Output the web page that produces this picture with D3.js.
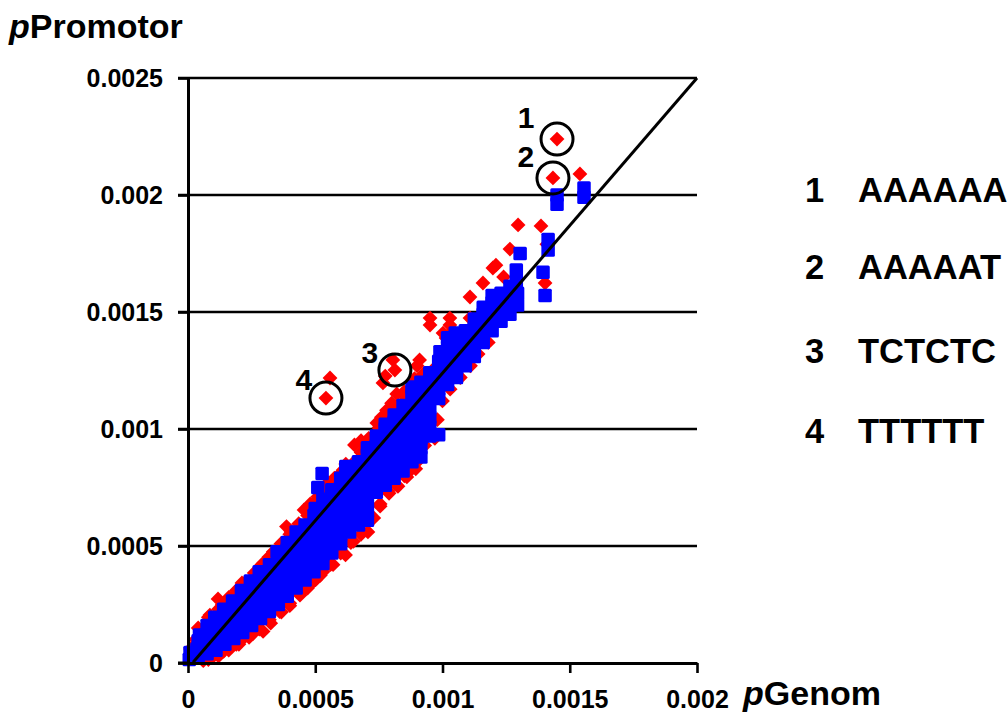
<!DOCTYPE html>
<html><head><meta charset="utf-8">
<script src="https://cdn.jsdelivr.net/npm/d3@7"></script>
<style>
html,body{margin:0;padding:0;background:#fff;}
svg{display:block;}
text{font-family:"Liberation Sans",Arial,Helvetica,sans-serif;font-weight:bold;fill:#000;}
</style></head><body>
<svg id="chart" width="1007" height="714"></svg>
<script>
// ---- axis ticks ----
const xTicks = [0, 0.0005, 0.001, 0.0015, 0.002];
const xTickLabels = ["0", "0.0005", "0.001", "0.0015", "0.002"];
const yTicks = [0, 0.0005, 0.001, 0.0015, 0.002, 0.0025];
const yTickLabels = ["0", "0.0005", "0.001", "0.0015", "0.002", "0.0025"];
const xTitle = ["p", "Genom"];
const yTitle = ["p", "Promotor"];

// ---- red series (diamonds): [pGenom, pPromotor] ----
const redSeries = [
 // upper edge of the cloud
 [1e-5,6e-5],[3e-5,10e-5],[4e-5,15e-5],[6e-5,14e-5],[8e-5,19.5e-5],[8.6e-5,20.5e-5],[12e-5,23e-5],[11.8e-5,27.4e-5],
 [13.5e-5,25e-5],[15.5e-5,26.5e-5],[16e-5,28e-5],[19e-5,30e-5],[19e-5,31e-5],[21.2e-5,34.2e-5],[22.5e-5,34.5e-5],
 [23.5e-5,33e-5],[26e-5,38.5e-5],[29.5e-5,42.5e-5],[29e-5,42e-5],[31.8e-5,45.3e-5],[33e-5,46e-5],[33.5e-5,47.5e-5],
 [36.5e-5,51e-5],[38.7e-5,58.3e-5],[40e-5,55e-5],[40.5e-5,56e-5],[43.5e-5,59.5e-5],[45.6e-5,65.4e-5],[47e-5,63e-5],
 [48e-5,68e-5],[50.5e-5,69.5e-5],[51e-5,71e-5],[54e-5,73.5e-5],[55e-5,77e-5],[57.5e-5,77.5e-5],[57.5e-5,79e-5],
 [59.7e-5,80.8e-5],[61e-5,82.5e-5],[62e-5,85e-5],[64.5e-5,85e-5],[65.4e-5,93.2e-5],[68e-5,90e-5],[68e-5,95e-5],
 [71e-5,96e-5],[71.5e-5,95.5e-5],[74.2e-5,102.6e-5],[75e-5,100.5e-5],[76e-5,105e-5],[78.5e-5,105.5e-5],[78e-5,108e-5],
 [80e-5,111e-5],[82e-5,109.5e-5],[82e-5,115e-5],[85.5e-5,113.5e-5],[85e-5,116e-5],[88e-5,120e-5],[89e-5,121.5e-5],
 [92.5e-5,123.5e-5],[93e-5,122e-5],[96e-5,125e-5],[98.2e-5,118.4e-5],
 // outliers above the cloud
 [76.6e-5,119.7e-5],[77.5e-5,122.6e-5],[90e-5,127e-5],[91e-5,129.5e-5],
 [80.5e-5,129.5e-5],[81.3e-5,125.2e-5],[54.2e-5,113.2e-5],[55.8e-5,121.8e-5],
 [95.1e-5,147.4e-5],[95.1e-5,144.4e-5],[100.2e-5,141e-5],[101.4e-5,138.9e-5],[102.9e-5,147.4e-5],[102.9e-5,144.4e-5],
 [104e-5,142e-5],[110.8e-5,147.4e-5],[110.8e-5,156.4e-5],[115.9e-5,162.4e-5],[119.8e-5,168.8e-5],[121e-5,170e-5],
 [124e-5,165e-5],[126.5e-5,176.9e-5],[129.7e-5,187.2e-5],[138.7e-5,186.8e-5],[140.3e-5,162.4e-5],[141e-5,179e-5],
 [154e-5,209e-5],[145.0e-5,223.9e-5],[143.4e-5,207.3e-5],
 // lower edge of the cloud
 [6e-5,1e-5],[8e-5,1.5e-5],[10e-5,3e-5],[12e-5,3e-5],[14e-5,5e-5],[16e-5,5.5e-5],[19e-5,8e-5],[20e-5,8e-5],
 [22.4e-5,11.3e-5],[24e-5,11e-5],[25.5e-5,12.5e-5],[28e-5,14.5e-5],[29.5e-5,13.5e-5],[32e-5,18.5e-5],[32.5e-5,17e-5],
 [36e-5,22e-5],[36.7e-5,21.8e-5],[40e-5,24.5e-5],[40e-5,25.5e-5],[44e-5,29e-5],[44e-5,29.5e-5],[47e-5,32e-5],
 [48e-5,33.5e-5],[50.1e-5,35.5e-5],[52e-5,37.5e-5],[53e-5,39e-5],[56e-5,42e-5],[57e-5,42e-5],[60e-5,47e-5],
 [61.9e-5,46.2e-5],[64e-5,51.5e-5],[65e-5,52e-5],[68e-5,55e-5],[70.7e-5,56e-5],[72e-5,62e-5],[73e-5,62e-5],
 [75.5e-5,67e-5],[75.5e-5,68e-5],[78.6e-5,73.5e-5],[79e-5,72.5e-5],[82e-5,76e-5],[82.5e-5,75.5e-5],[85e-5,80e-5],
 [86e-5,79.5e-5],[88e-5,83e-5],[89.5e-5,83e-5],[91e-5,87e-5],[88.4e-5,95.3e-5],[93e-5,93e-5],
 [97e-5,96e-5],[98e-5,104e-5],[100e-5,112e-5],[103e-5,117e-5],[107e-5,122e-5],[111e-5,127e-5],[114e-5,132e-5],[118e-5,137e-5]
];

// ---- blue series (squares): [pGenom, pPromotor] ----
const blueSeries = [
 [0.5e-5,1.5e-5],[0.8e-5,4.5e-5],
 [4e-5,2.5e-5],[3.5e-5,6e-5],[4e-5,9.5e-5],[4.5e-5,12e-5],
 [7.5e-5,4e-5],[7.5e-5,8e-5],[7e-5,12e-5],[7.5e-5,16e-5],
 [11e-5,5.5e-5],[11e-5,9.5e-5],[11e-5,13.5e-5],[11e-5,17.5e-5],[10.5e-5,19.5e-5],
 [14.5e-5,8e-5],[14.5e-5,12e-5],[14.5e-5,16e-5],[14.5e-5,20e-5],[14e-5,23e-5],
 [18e-5,10.5e-5],[18e-5,14.5e-5],[18e-5,18.5e-5],[18e-5,22.5e-5],[17.5e-5,26.5e-5],
 [21.5e-5,13e-5],[21.5e-5,17e-5],[21.5e-5,21e-5],[21.5e-5,25e-5],[21.5e-5,29e-5],[21e-5,31e-5],
 [25e-5,16e-5],[25e-5,20e-5],[25e-5,24e-5],[25e-5,28e-5],[25e-5,32e-5],[24.5e-5,35e-5],
 [28.5e-5,19e-5],[28.5e-5,23e-5],[28.5e-5,27e-5],[28.5e-5,31e-5],[28.5e-5,35e-5],[28e-5,39e-5],
 [32e-5,22e-5],[32e-5,26e-5],[32e-5,30e-5],[32e-5,34e-5],[32e-5,38e-5],[32e-5,42e-5],
 [35.5e-5,25e-5],[35.5e-5,29e-5],[35.5e-5,33e-5],[35.5e-5,37e-5],[35.5e-5,41e-5],[35.5e-5,45e-5],[35e-5,47.5e-5],
 [39e-5,28.5e-5],[39e-5,32.5e-5],[39e-5,36.5e-5],[39e-5,40.5e-5],[39e-5,44.5e-5],[39e-5,48.5e-5],[39e-5,51.5e-5],
 [42.5e-5,32e-5],[42.5e-5,36e-5],[42.5e-5,40e-5],[42.5e-5,44e-5],[42.5e-5,48e-5],[42.5e-5,52e-5],[42.5e-5,56e-5],
 [46e-5,35.5e-5],[46e-5,39.5e-5],[46e-5,43.5e-5],[46e-5,47.5e-5],[46e-5,51.5e-5],[46e-5,55.5e-5],[46e-5,59e-5],
 [49.5e-5,39e-5],[49.5e-5,43e-5],[49.5e-5,47e-5],[49.5e-5,51e-5],[49.5e-5,55e-5],[49.5e-5,59e-5],[49.5e-5,63e-5],[50e-5,66e-5],[51e-5,75e-5],
 [53e-5,42.5e-5],[53e-5,46.5e-5],[53e-5,50.5e-5],[53e-5,54.5e-5],[53e-5,58.5e-5],[53e-5,62.5e-5],[53e-5,66.5e-5],[53e-5,70e-5],[52.7e-5,81e-5],
 [56.5e-5,47e-5],[56.5e-5,51e-5],[56.5e-5,55e-5],[56.5e-5,59e-5],[56.5e-5,63e-5],[56.5e-5,67e-5],[56.5e-5,71e-5],[56.5e-5,74e-5],
 [60e-5,51e-5],[60e-5,55e-5],[60e-5,59e-5],[60e-5,63e-5],[60e-5,67e-5],[60e-5,71e-5],[60e-5,75e-5],[60e-5,79e-5],
 [63.5e-5,56e-5],[63.5e-5,60e-5],[63.5e-5,64e-5],[63.5e-5,68e-5],[63.5e-5,72e-5],[63.5e-5,76e-5],[63.5e-5,80e-5],[62e-5,84e-5],
 [67e-5,59e-5],[67e-5,63e-5],[67e-5,67e-5],[67e-5,71e-5],[67e-5,75e-5],[67e-5,79e-5],[67e-5,83e-5],[67e-5,86e-5],
 [70.5e-5,61e-5],[70.5e-5,65e-5],[70.5e-5,69e-5],[70.5e-5,73e-5],[70.5e-5,77e-5],[70.5e-5,81e-5],[70.5e-5,85e-5],[70.5e-5,89e-5],[70.5e-5,92e-5],
 [74e-5,73e-5],[74e-5,77e-5],[74e-5,81e-5],[74e-5,85e-5],[74e-5,89e-5],[74e-5,93e-5],[74e-5,97e-5],
 [77.5e-5,76e-5],[77.5e-5,80e-5],[77.5e-5,84e-5],[77.5e-5,88e-5],[77.5e-5,92e-5],[77.5e-5,96e-5],[77.5e-5,100e-5],[77.5e-5,102e-5],
 [81e-5,79e-5],[81e-5,83e-5],[81e-5,87e-5],[81e-5,91e-5],[81e-5,95e-5],[81e-5,99e-5],[81e-5,103e-5],[81e-5,106e-5],
 [84.5e-5,82e-5],[84.5e-5,86e-5],[84.5e-5,90e-5],[84.5e-5,94e-5],[84.5e-5,98e-5],[84.5e-5,102e-5],[84.5e-5,106e-5],[84.5e-5,110e-5],
 [88e-5,86e-5],[88e-5,90e-5],[88e-5,94e-5],[88e-5,98e-5],[88e-5,102e-5],[88e-5,106e-5],[88e-5,110e-5],[88e-5,114e-5],[88e-5,118e-5],
 [91.5e-5,88e-5],[91.5e-5,92e-5],[91.5e-5,96e-5],[91.5e-5,100e-5],[91.5e-5,104e-5],[91.5e-5,108e-5],[91.5e-5,112e-5],[91.5e-5,116e-5],[91.5e-5,120e-5],
 [95e-5,97e-5],[95e-5,101e-5],[95e-5,105e-5],[95e-5,109e-5],[95e-5,113e-5],[95e-5,117e-5],[95e-5,121e-5],[95e-5,124e-5],
 [98.5e-5,97.5e-5],[98.5e-5,113e-5],[98.5e-5,117e-5],[98.5e-5,121e-5],[98.5e-5,125e-5],[98.5e-5,129e-5],[99e-5,133e-5],
 [102e-5,119e-5],[102e-5,123e-5],[102e-5,127e-5],[102e-5,131e-5],[102e-5,135e-5],[102e-5,139e-5],
 [105.5e-5,122e-5],[105.5e-5,126e-5],[105.5e-5,130e-5],[105.5e-5,134e-5],[105.5e-5,138e-5],[105e-5,141e-5],
 [109e-5,127e-5],[109e-5,131e-5],[109e-5,135e-5],[109e-5,139e-5],[109e-5,142e-5],
 [112.5e-5,131e-5],[112.5e-5,135e-5],[112.5e-5,139e-5],[112.5e-5,143e-5],[112.5e-5,147e-5],
 [116e-5,137e-5],[116e-5,141e-5],[116e-5,145e-5],[116e-5,149e-5],[116e-5,152e-5],
 [119.5e-5,142e-5],[119.5e-5,146e-5],[119.5e-5,150e-5],[119.5e-5,154e-5],[119.5e-5,157e-5],
 [123e-5,146e-5],[123e-5,150e-5],[123e-5,154e-5],[123e-5,158e-5],
 [126.5e-5,149e-5],[126.5e-5,153e-5],[126.5e-5,157e-5],[126.5e-5,161e-5],
 [129.5e-5,153e-5],[129.5e-5,158e-5],[129e-5,163e-5],[129e-5,168e-5],[130.5e-5,175e-5],
 [139.5e-5,167e-5],[140.3e-5,157e-5],[141.5e-5,176.5e-5],[141.5e-5,181e-5],
 [145e-5,196e-5],[145e-5,200e-5],[155.6e-5,199e-5],[155.6e-5,203e-5]
];

// ---- reference line (pPromotor = 1.25 * pGenom) ----
const diagonal = [[2e-5, 0.3e-5], [200e-5, 250e-5]];

// ---- highlighted hexamers ----
const highlightIds = ["1", "2", "3", "4"];
const highlightSeqs = ["AAAAAA", "AAAAAT", "TCTCTC", "TTTTTT"];
const highlightX = [145.0e-5, 143.4e-5, 81.3e-5, 54.2e-5];
const highlightY = [223.9e-5, 207.3e-5, 125.2e-5, 113.2e-5];

// ================= drawing =================
const svg = d3.select("#chart");
const x = d3.scaleLinear().domain([0, 0.002]).range([188, 697]);
const y = d3.scaleLinear().domain([0, 0.0025]).range([663, 78]);

// gridlines
svg.append("g").selectAll("line").data(yTicks.filter(d => d > 0)).join("line")
  .attr("x1", x(0) - 10).attr("x2", x(0.002))
  .attr("y1", d => y(d)).attr("y2", d => y(d))
  .attr("stroke", "#000").attr("stroke-width", 2.6);

// red diamonds
const dS = 7.4;
svg.append("g").selectAll("path").data(redSeries).join("path")
  .attr("transform", d => `translate(${x(d[0])},${y(d[1])})`)
  .attr("d", `M0,${-dS}L${dS},0L0,${dS}L${-dS},0Z`)
  .attr("fill", "#ff0000");

// blue squares
const sq = 13.5;
svg.append("g").selectAll("rect").data(blueSeries).join("rect")
  .attr("x", d => x(d[0]) - sq / 2).attr("y", d => y(d[1]) - sq / 2)
  .attr("width", sq).attr("height", sq).attr("rx", 1.5)
  .attr("fill", "#0000ff");

// diagonal line
svg.append("path").datum(diagonal)
  .attr("d", d3.line().x(d => x(d[0])).y(d => y(d[1])))
  .attr("stroke", "#000").attr("stroke-width", 3).attr("fill", "none");

// axes
const fontTick = 25;
const yAxis = d3.axisLeft(y).tickValues(yTicks).tickFormat((d, i) => yTickLabels[i])
  .tickSize(10).tickSizeOuter(0).tickPadding(15);
const gy = svg.append("g").attr("transform", `translate(${x(0)},0)`).call(yAxis);
gy.select(".domain").attr("stroke-width", 3);
gy.selectAll(".tick line").attr("stroke-width", 2.6);
gy.selectAll("text").attr("font-size", fontTick).attr("dy", "0.34em");

const xAxis = d3.axisBottom(x).tickValues(xTicks).tickFormat((d, i) => xTickLabels[i])
  .tickSize(10).tickSizeOuter(0).tickPadding(17);
const gx = svg.append("g").attr("transform", `translate(0,${y(0)})`).call(xAxis);
gx.select(".domain").attr("stroke-width", 3);
gx.selectAll(".tick line").attr("stroke-width", 2.6);
gx.selectAll("text").attr("font-size", fontTick);
svg.selectAll("g").attr("font-family", null).attr("font-size", null);
svg.append("line").attr("x1", x(0) - 10).attr("x2", x(0)).attr("y1", y(0)).attr("y2", y(0))
  .attr("stroke", "#000").attr("stroke-width", 3);

// axis titles
const yt = svg.append("text").attr("x", 9).attr("y", 38).attr("font-size", 34);
yt.append("tspan").attr("font-style", "italic").text(yTitle[0]);
yt.append("tspan").text(yTitle[1]);
const xt = svg.append("text").attr("x", 743).attr("y", 705).attr("font-size", 34);
xt.append("tspan").attr("font-style", "italic").text(xTitle[0]);
xt.append("tspan").text(xTitle[1]);

// highlight circles and numbers
const labelOffsets = [[-31, -11], [-27, -11], [-25, -7], [-22, -8]];
highlightIds.forEach((id, i) => {
  const cx = x(highlightX[i]), cy = y(highlightY[i]);
  svg.append("circle").attr("cx", cx).attr("cy", cy).attr("r", 16)
    .attr("fill", "none").attr("stroke", "#000").attr("stroke-width", 3);
  svg.append("text").attr("x", cx + labelOffsets[i][0]).attr("y", cy + labelOffsets[i][1])
    .attr("text-anchor", "middle").attr("font-size", 30).text(id);
});

// legend on the right
const legendBaselines = [202, 279, 363, 443];
highlightIds.forEach((id, i) => {
  svg.append("text").attr("x", 805).attr("y", legendBaselines[i]).attr("font-size", 34.5).text(id);
  svg.append("text").attr("x", 858).attr("y", legendBaselines[i]).attr("font-size", 34.5).text(highlightSeqs[i]);
});
</script>
</body></html>
